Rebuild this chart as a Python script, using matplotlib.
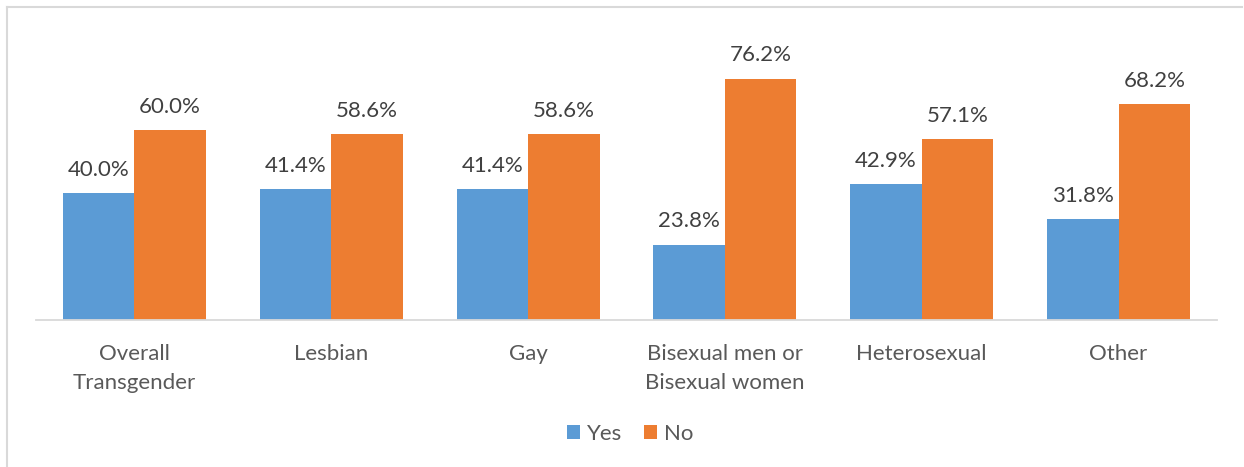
import matplotlib.pyplot as plt
import numpy as np
from matplotlib.lines import Line2D

categories = ['Overall\nTransgender', 'Lesbian', 'Gay',
              'Bisexual men or\nBisexual women', 'Heterosexual', 'Other']
yes_pct = [40.0, 41.4, 41.4, 23.8, 42.9, 31.8]
no_pct = [60.0, 58.6, 58.6, 76.2, 57.1, 68.2]

BLUE = '#5B9BD5'
ORANGE = '#ED7D31'
plt.rcParams['font.family'] = ['Lato', 'DejaVu Sans']

W, H = 1244, 467
fig = plt.figure(figsize=(W / 100, H / 100), dpi=100)
# plot area in pixels: x 36..1217, baseline at y=320
ax = fig.add_axes([36 / W, (H - 320) / H, (1217 - 36) / W, 285 / H])

x = np.arange(len(categories))
bw = 0.363
ax.bar(x - bw / 2, yes_pct, bw, color=BLUE, label='Yes')
ax.bar(x + bw / 2, no_pct, bw, color=ORANGE, label='No')

for xi, v in zip(x - bw / 2, yes_pct):
    ax.text(xi, v + 4.2, f'{v:.1f}%', ha='center', va='bottom',
            fontsize=16, color='#404040')
for xi, v in zip(x + bw / 2, no_pct):
    ax.text(xi, v + 4.2, f'{v:.1f}%', ha='center', va='bottom',
            fontsize=16, color='#404040')

ax.set_xlim(-0.5, len(categories) - 0.5)
ax.set_ylim(0, 90)
ax.set_yticks([])
ax.set_xticks(x)
ax.set_xticklabels(categories, fontsize=16, color='#595959', linespacing=1.6)
ax.tick_params(axis='x', length=0, pad=17)
for s in ['top', 'right', 'left']:
    ax.spines[s].set_visible(False)
ax.spines['bottom'].set_color('#D9D9D9')
ax.spines['bottom'].set_linewidth(1.3)

fig.legend(loc='center', bbox_to_anchor=(630 / W, 1 - 434 / H), ncol=2,
           frameon=False, fontsize=16, labelcolor='#595959',
           handlelength=0.6, handleheight=0.6, handletextpad=0.3,
           columnspacing=1.0)

# chart frame (top and left edges)
fig.add_artist(Line2D([6.5 / W, 6.5 / W], [0, 1 - 6.5 / H], transform=fig.transFigure,
                      color='#D9D9D9', lw=1.5))
fig.add_artist(Line2D([6.5 / W, 1242 / W], [1 - 6.5 / H, 1 - 6.5 / H],
                      transform=fig.transFigure, color='#D9D9D9', lw=1.5))

fig.savefig('out.png', dpi=100)
